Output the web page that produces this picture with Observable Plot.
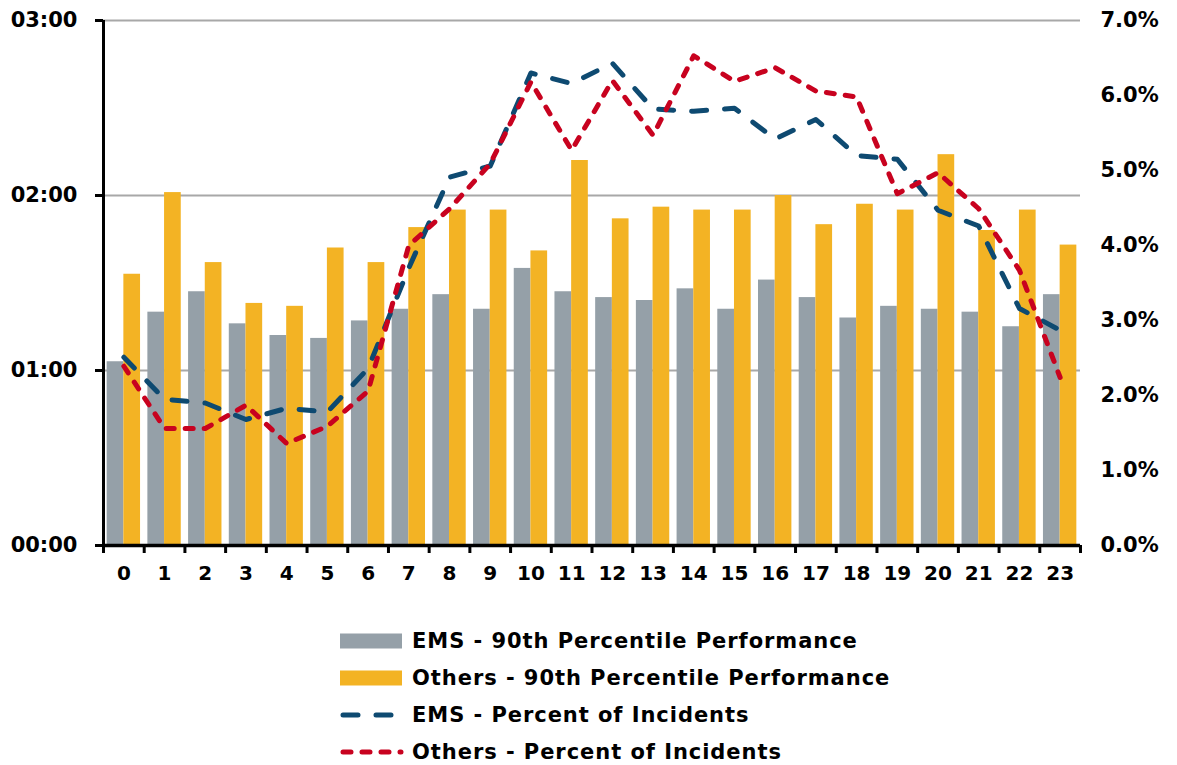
<!DOCTYPE html>
<html>
<head>
<meta charset="utf-8">
<script src="https://cdn.jsdelivr.net/npm/d3@7"></script>
<script src="https://cdn.jsdelivr.net/npm/@observablehq/plot@0.6"></script>
<style>
  html, body { margin: 0; padding: 0; background: #fff; }
  body { font-family: "DejaVu Sans", sans-serif; width: 1177px; }
  #legend { margin-top: 22px; margin-left: 340px; }
  .row { display: flex; align-items: center; height: 37px; }
  .row svg { display: block; margin-right: 8px; }
  .row span { font-size: 21px; font-weight: bold; color: #000; white-space: nowrap; letter-spacing: 0.95px; }
</style>
</head>
<body>
<div id="chart"></div>
<div id="legend"></div>
<script>
// ---- data ----
const hours = [0,1,2,3,4,5,6,7,8,9,10,11,12,13,14,15,16,17,18,19,20,21,22,23];
// 90th percentile performance, in seconds (mm:ss axis)
const emsPerf    = [63, 80, 87, 76, 72, 71, 77, 81, 86, 81, 95, 87, 85, 84, 88, 81, 91, 85, 78, 82, 81, 80, 75, 86];
const othersPerf = [93, 121, 97, 83, 82, 102, 97, 109, 115, 115, 101, 132, 112, 116, 115, 115, 120, 110, 117, 115, 134, 108, 115, 103];
// percent of incidents
const emsPct    = [2.51, 1.95, 1.90, 1.68, 1.83, 1.78, 2.36, 3.70, 4.91, 5.06, 6.30, 6.16, 6.43, 5.82, 5.79, 5.83, 5.42, 5.68, 5.20, 5.15, 4.47, 4.26, 3.16, 2.87];
const othersPct = [2.39, 1.56, 1.56, 1.87, 1.36, 1.59, 2.06, 4.00, 4.49, 5.09, 6.18, 5.27, 6.20, 5.47, 6.53, 6.19, 6.37, 6.06, 5.98, 4.69, 4.97, 4.49, 3.67, 2.24];
const leftTicks = [0, 60, 120, 180];
const leftTickLabels = ["00:00", "01:00", "02:00", "03:00"];
const rightTicks = [0, 1, 2, 3, 4, 5, 6, 7];
const seriesNames = [
  "EMS - 90th Percentile Performance",
  "Others - 90th Percentile Performance",
  "EMS - Percent of Incidents",
  "Others - Percent of Incidents"
];

// ---- styles ----
const C = { grey: "#95a0a8", orange: "#f3b324", navy: "#0e4a71", red: "#c8021f" };
const emsDash = "15,18";
const othDash = "8,11";
const font = "DejaVu Sans";

const yMax = leftTicks[leftTicks.length - 1];
const pMax = rightTicks[rightTicks.length - 1];
const toY = p => p * yMax / pMax;   // percent -> left-axis units
const half = 0.41;
const boundaries = [hours[0] - 0.5, ...hours.map(h => h + 0.5)];

const chart = Plot.plot({
  width: 1177,
  height: 600,
  marginTop: 20,
  marginBottom: 55,
  marginLeft: 103,
  marginRight: 97,
  style: { fontFamily: font, fontWeight: "bold", fontSize: "21px", color: "#000", background: "#fff" },
  x: { domain: [hours[0] - 0.5, hours[hours.length - 1] + 0.5] },
  y: { domain: [0, yMax] },
  marks: [
    Plot.ruleY(leftTicks.slice(1), { stroke: "#a8a8a8", strokeWidth: 2 }),
    Plot.rectY(hours, { x1: h => h - half, x2: h => h, y1: 0, y2: (h, i) => emsPerf[i], fill: C.grey }),
    Plot.rectY(hours, { x1: h => h, x2: h => h + half, y1: 0, y2: (h, i) => othersPerf[i], fill: C.orange }),
    Plot.line(hours, { x: h => h, y: (h, i) => toY(emsPct[i]), stroke: C.navy, strokeWidth: 5,
      strokeDasharray: emsDash, strokeLinecap: "round", strokeLinejoin: "round" }),
    Plot.line(hours, { x: h => h, y: (h, i) => toY(othersPct[i]), stroke: C.red, strokeWidth: 5,
      strokeDasharray: othDash, strokeLinecap: "round", strokeLinejoin: "round" }),
    Plot.ruleX([boundaries[0]], { stroke: "#000", strokeWidth: 3 }),
    Plot.ruleY([0], { stroke: "#000", strokeWidth: 3.5 }),
    Plot.axisY(leftTicks, { anchor: "left", tickSize: 8, tickPadding: 18, strokeWidth: 3,
      tickFormat: (d, i) => leftTickLabels[leftTicks.indexOf(d)], fontSize: 21, fontWeight: "bold", fontFamily: font }),
    Plot.axisY(rightTicks.map(toY), { anchor: "right", tickSize: 0, tickPadding: 20,
      tickFormat: d => (Math.round(d * pMax / yMax * 10) / 10).toFixed(1) + "%", fontSize: 21, fontWeight: "bold", fontFamily: font }),
    Plot.axisX(boundaries, { anchor: "bottom", tickSize: 8, strokeWidth: 3, tickFormat: () => "" }),
    Plot.axisX(hours, { anchor: "bottom", tickSize: 0, tickPadding: 20, tickFormat: d => String(d),
      fontSize: 20, fontWeight: "bold", fontFamily: font })
  ]
});
document.getElementById("chart").appendChild(chart);

// ---- legend ----
const legend = d3.select("#legend");
const swatches = [
  { type: "rect", color: C.grey },
  { type: "rect", color: C.orange },
  { type: "line", color: C.navy, dash: emsDash },
  { type: "line", color: C.red, dash: othDash }
];
seriesNames.forEach((name, i) => {
  const s = swatches[i];
  const row = legend.append("div").attr("class", "row");
  const svg = row.append("svg").attr("width", 64).attr("height", 20);
  if (s.type === "rect") {
    svg.append("rect").attr("x", 0).attr("y", 2.5).attr("width", 62).attr("height", 15).attr("fill", s.color);
  } else {
    svg.append("line").attr("x1", 3).attr("x2", 61).attr("y1", 10).attr("y2", 10)
      .attr("stroke", s.color).attr("stroke-width", 5).attr("stroke-linecap", "round")
      .attr("stroke-dasharray", s.dash);
  }
  row.append("span").text(name);
});
</script>
</body>
</html>
